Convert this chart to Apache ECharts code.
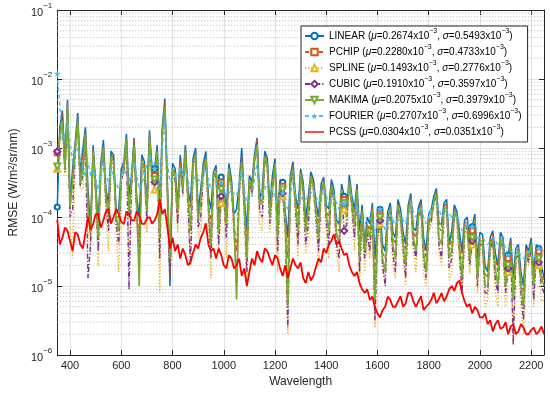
<!DOCTYPE html>
<html><head><meta charset="utf-8">
<script src="https://cdn.jsdelivr.net/npm/echarts@6/dist/echarts.min.js"></script>
<style>html,body{margin:0;padding:0;background:#fff}#c{width:550px;height:393px}</style>
</head><body><div id="c"></div>
<script>
const wavelength = [350,360,370,380,390,400,410,420,430,440,450,460,470,480,490,500,510,520,530,540,
550,560,570,580,590,600,610,620,630,640,650,660,670,680,690,700,710,720,730,740,
750,760,770,780,790,800,810,820,830,840,850,860,870,880,890,900,910,920,930,940,
950,960,970,980,990,1000,1010,1020,1030,1040,1050,1060,1070,1080,1090,1100,1110,1120,1130,1140,
1150,1160,1170,1180,1190,1200,1210,1220,1230,1240,1250,1260,1270,1280,1290,1300,1310,1320,1330,1340,
1350,1360,1370,1380,1390,1400,1410,1420,1430,1440,1450,1460,1470,1480,1490,1500,1510,1520,1530,1540,
1550,1560,1570,1580,1590,1600,1610,1620,1630,1640,1650,1660,1670,1680,1690,1700,1710,1720,1730,1740,
1750,1760,1770,1780,1790,1800,1810,1820,1830,1840,1850,1860,1870,1880,1890,1900,1910,1920,1930,1940,
1950,1960,1970,1980,1990,2000,2010,2020,2030,2040,2050,2060,2070,2080,2090,2100,2110,2120,2130,2140,
2150,2160,2170,2180,2190,2200,2210,2220,2230,2240,2250];

const linear = [1.4e-4,2e-3,3.5e-3,6e-4,5e-3,1.6e-4,5e-4,1.2e-3,3.2e-3,4e-4,
1e-3,2e-3,2.5e-4,7e-5,1.1e-3,3e-4,7.9e-5,6e-4,1.3e-3,2.5e-4,
1.6e-4,9e-4,7.9e-4,1.2e-4,1.3e-4,5e-4,6.3e-4,1.6e-3,2e-4,4e-4,
1.4e-3,2e-4,1e-4,8e-4,6.3e-4,1.5e-4,1.8e-3,5e-4,5e-4,1.1e-3,
1.3e-4,2e-3,5.2e-3,3e-4,1e-5,6e-4,5e-4,1.5e-4,7.9e-4,3e-4,
1.1e-3,2.5e-4,1.6e-4,7e-4,1e-3,1.2e-4,2.5e-4,6e-4,8.9e-4,2e-4,
1.3e-4,4.5e-4,5.6e-4,9e-5,3.8e-4,2.5e-4,1.3e-4,6e-4,3.5e-4,1.1e-4,
1.3e-4,3e-4,1e-3,2e-4,6.3e-5,4e-4,3.2e-4,8e-4,1.4e-3,1.8e-4,
2.5e-4,9e-4,7.1e-4,1.4e-4,4e-4,7e-4,1e-4,3.5e-4,3.2e-4,1.2e-4,
5e-5,4e-4,6.3e-4,2e-4,1.3e-4,5e-4,3.2e-4,9e-5,2e-4,4.5e-4,
3.5e-4,1.6e-4,1e-4,3e-4,3.8e-4,1.5e-4,1.3e-4,3.5e-4,2.5e-4,9e-5,
7.9e-5,3e-4,2e-4,1.2e-4,4.1e-4,2e-4,1.3e-4,3e-4,6.3e-5,1.5e-4,
4e-5,1e-4,7.9e-5,1.6e-4,2.5e-5,9e-5,1.3e-4,4e-5,3.2e-5,1.2e-4,
1.6e-4,6e-5,5e-5,1.8e-4,1.3e-4,6e-5,4e-5,1.5e-4,2.2e-4,7e-5,
6.3e-5,1.4e-4,1.8e-4,5e-5,3.2e-5,1.1e-4,1.3e-4,2e-4,2.6e-4,8e-5,
7.9e-5,1.6e-4,1.8e-4,4e-5,6.3e-5,1.5e-4,1.2e-4,6e-5,3.2e-5,9e-5,
1e-4,4e-5,7.2e-5,1.1e-4,2.5e-5,6e-5,5.6e-5,2e-5,1.6e-5,5e-5,
6.3e-5,3e-5,2e-5,6e-5,5e-5,1.5e-5,2.8e-5,5e-5,1.3e-5,3.5e-5,
4e-5,1.6e-5,1e-5,4e-5,3.2e-5,5e-5,1.6e-5,4e-5,3.5e-5,2e-5,
1.3e-5];

const pchip = [8.5e-4,1.6e-3,3.2e-3,5e-4,4.5e-3,1.3e-4,4e-4,1e-3,2.8e-3,3.2e-4,
7.9e-4,1.7e-3,2e-4,5e-5,1e-3,2.5e-4,6.3e-5,5e-4,1.1e-3,2e-4,
1.3e-4,8e-4,7.1e-4,1e-4,1e-4,4e-4,5.6e-4,1.4e-3,1.6e-4,3.2e-4,
1.3e-3,1.5e-4,5e-5,7e-4,5.6e-4,1.2e-4,1.6e-3,4e-4,4e-4,1e-3,
1e-4,1.8e-3,4.7e-3,2.5e-4,1.6e-5,5e-4,4.5e-4,1.2e-4,6.3e-4,2.5e-4,
1e-3,2e-4,1.3e-4,6e-4,8.9e-4,1e-4,2e-4,5e-4,7.9e-4,1.6e-4,
7.9e-5,4e-4,5e-4,7e-5,3.2e-4,2.2e-4,1e-4,5e-4,3.2e-4,9e-5,
3.2e-5,2.6e-4,7.9e-4,1.6e-4,4e-5,3.5e-4,2.8e-4,7e-4,1.3e-3,1.5e-4,
2e-4,8e-4,6.3e-4,1.1e-4,3.2e-4,6e-4,7.9e-5,3e-4,2.8e-4,1e-4,
2.5e-5,3.5e-4,5.6e-4,1.6e-4,1e-4,4.5e-4,2.8e-4,7e-5,1.6e-4,4e-4,
3.2e-4,1.3e-4,7.9e-5,2.6e-4,3.5e-4,1.2e-4,1e-4,3e-4,2.2e-4,7e-5,
6.3e-5,2.6e-4,1.8e-4,1e-4,3.5e-4,1.7e-4,1e-4,2.6e-4,4e-5,1.3e-4,
3.5e-5,8e-5,6.3e-5,1.4e-4,1.3e-5,7e-5,1.1e-4,3e-5,2.5e-5,1e-4,
1.4e-4,5e-5,4e-5,1.6e-4,1.1e-4,5e-5,3.2e-5,1.3e-4,2e-4,6e-5,
5e-5,1.2e-4,1.6e-4,4e-5,2.5e-5,9e-5,1.1e-4,1.8e-4,2.4e-4,7e-5,
6.3e-5,1.4e-4,1.6e-4,3e-5,5e-5,1.3e-4,1.07e-4,5e-5,2.5e-5,8e-5,
8.9e-5,3e-5,6.3e-5,1e-4,2e-5,5e-5,5e-5,1.5e-5,1.3e-5,4.5e-5,
5.6e-5,2.5e-5,1.6e-5,5e-5,4.5e-5,1.2e-5,2.5e-5,4.5e-5,1e-5,3e-5,
3.5e-5,1.3e-5,7.9e-6,3.5e-5,2.8e-5,4.5e-5,1.3e-5,3.5e-5,3.2e-5,1.6e-5,
1.1e-5];

const spline = [5e-4,1.2e-3,2e-3,4e-4,3.2e-3,8e-5,2.5e-5,8e-4,2e-3,2.5e-4,
2.5e-4,1.4e-3,6.3e-5,3e-5,7.9e-4,2e-4,2e-5,4e-4,7.9e-4,1.3e-4,
3.2e-5,6e-4,5e-4,6e-5,1.6e-5,3e-4,4e-4,1.2e-3,2.5e-5,2.5e-4,
1e-3,9e-5,1.6e-5,5e-4,4e-4,6e-5,1.3e-3,3e-4,2.5e-4,8e-4,
7.9e-6,1.4e-3,3.2e-3,1.5e-4,1.3e-5,4e-4,3.2e-4,6e-5,5e-4,2e-4,
7.9e-4,1.2e-4,2e-5,5e-4,6.3e-4,5e-5,6.3e-5,4e-4,6.3e-4,1e-4,
1.3e-5,3.2e-4,4e-4,3e-5,1.6e-4,1.8e-4,2.5e-5,4e-4,2.5e-4,5e-5,
1e-5,2e-4,5e-4,1e-4,1e-5,3e-4,2e-4,6e-4,1e-3,8e-5,
6.3e-5,6e-4,5e-4,6e-5,2e-4,5e-4,1.6e-5,2.5e-4,2e-4,5e-5,
2e-6,2.5e-4,4e-4,1e-4,2.5e-5,3.5e-4,2e-4,3e-5,5e-5,3e-4,
2.5e-4,8e-5,2e-5,2e-4,2.8e-4,6e-5,2.5e-5,2.2e-4,1.6e-4,3e-5,
1.6e-5,2e-4,1.3e-4,6e-5,2.8e-4,1.2e-4,3.2e-5,2e-4,1e-5,8e-5,
1.6e-5,5e-5,2.5e-5,1e-4,2.5e-6,4e-5,7.9e-5,1.5e-5,1.3e-5,7e-5,
1e-4,2e-5,1.3e-5,1.2e-4,7.9e-5,2.5e-5,1e-5,1e-4,1.6e-4,3e-5,
1.6e-5,9e-5,1.3e-4,1.5e-5,1e-5,6e-5,7.9e-5,1.4e-4,2e-4,3e-5,
2e-5,1.1e-4,1.3e-4,1.2e-5,1.6e-5,1e-4,8.9e-5,2e-5,7.9e-6,5e-5,
6.3e-5,1.5e-5,4e-5,7e-5,7.9e-6,3e-5,4e-5,5e-6,6.3e-6,3e-5,
4e-5,8e-6,5e-6,4e-5,3.2e-5,5e-6,1.6e-5,3.5e-5,1.6e-6,2e-5,
2.5e-5,5e-6,2e-6,2.5e-5,2e-5,3e-5,5e-6,2.5e-5,2e-5,6e-6,
6.3e-6];

const cubic = [8.9e-4,1.4e-3,2.8e-3,4.5e-4,3.5e-3,1e-4,1.3e-4,9e-4,2.2e-3,2.8e-4,
4e-4,1.5e-3,1.3e-5,4e-5,8.9e-4,2.2e-4,3.2e-5,4.5e-4,8.9e-4,1.6e-4,
6.3e-5,7e-4,5.6e-4,8e-5,4e-5,3.5e-4,4.5e-4,1.3e-3,8.9e-6,3e-4,
1.1e-3,1.2e-4,2.5e-5,6e-4,4.5e-4,9e-5,1.4e-3,3.5e-4,3.2e-4,9e-4,
2.5e-5,1.6e-3,3.5e-3,2e-4,1.3e-5,4.5e-4,3.5e-4,8e-5,5e-4,2.2e-4,
8.9e-4,1.6e-4,2e-5,5.5e-4,7.1e-4,7e-5,1e-4,4.5e-4,6.3e-4,1.3e-4,
2.5e-5,3.5e-4,4e-4,4e-5,2e-4,2e-4,5e-5,4.5e-4,2.5e-4,7e-5,
1e-5,2.2e-4,5.6e-4,1.3e-4,1.6e-5,3.2e-4,2.2e-4,6.5e-4,1e-3,1.2e-4,
1e-4,7e-4,5e-4,8e-5,2.5e-4,5.5e-4,3.2e-5,2.8e-4,2.2e-4,7e-5,
2.5e-6,3e-4,4.5e-4,1.3e-4,4e-5,4e-4,2.2e-4,4e-5,7.9e-5,3.5e-4,
2.5e-4,1e-4,3.2e-5,2.2e-4,3.2e-4,9e-5,4e-5,2.6e-4,1.8e-4,4e-5,
2.5e-5,2.2e-4,6.3e-5,8e-5,3.2e-4,1.4e-4,5e-5,2.2e-4,1.6e-5,1e-4,
2.5e-5,6e-5,3.2e-5,1.2e-4,3.2e-6,5e-5,8.9e-5,2e-5,1e-5,8e-5,
1.1e-4,3e-5,1.6e-5,1.4e-4,8.9e-5,3.5e-5,1.3e-5,1.1e-4,1.6e-4,4e-5,
2.5e-5,1e-4,1.3e-4,2.5e-5,1.3e-5,7e-5,8.9e-5,1.6e-4,2e-4,4e-5,
2.5e-5,1.2e-4,1.3e-4,1.8e-5,2.5e-5,1.1e-4,1e-4,3e-5,7.9e-6,6e-5,
7.1e-5,2e-5,4.5e-5,8e-5,1e-5,4e-5,4e-5,8e-6,7.9e-6,3.5e-5,
4.5e-5,1.2e-5,7.9e-6,4.5e-5,3.5e-5,8e-6,1.8e-5,4e-5,1.4e-6,2.5e-5,
2.8e-5,8e-6,3.2e-6,3e-5,2.2e-5,3.5e-5,6.3e-6,3e-5,2.2e-5,1e-5,
7.9e-6];

const makima = [5.4e-4,1.5e-3,2.5e-3,5e-4,4e-3,1.4e-4,3.2e-4,1e-3,2.5e-3,3e-4,
5e-4,1.6e-3,1.3e-4,6e-5,8.9e-4,2.5e-4,5e-5,5e-4,1e-3,2e-4,
1e-4,7.5e-4,6.3e-4,1e-4,6.3e-5,4e-4,5e-4,1.4e-3,1e-4,3.5e-4,
1.1e-3,1.6e-4,1e-5,6.5e-4,5e-4,1.2e-4,1.4e-3,4e-4,3.5e-4,9e-4,
5e-5,1.7e-3,4e-3,2.5e-4,2.5e-5,5e-4,4e-4,1.2e-4,5.6e-4,2.5e-4,
8.9e-4,2e-4,6.3e-5,6e-4,7.9e-4,9e-5,1.6e-4,5e-4,7.1e-4,1.5e-4,
4e-5,3.8e-4,4.5e-4,6e-5,2.5e-4,2.2e-4,7.9e-5,5e-4,2.8e-4,9e-5,
6.3e-6,2.5e-4,6.3e-4,1.6e-4,2.5e-5,3.5e-4,2.5e-4,7e-4,1.1e-3,1.5e-4,
1.6e-4,7.5e-4,5.6e-4,1e-4,2.8e-4,6e-4,5e-5,3e-4,2.5e-4,1e-4,
5e-6,3.5e-4,5e-4,1.6e-4,6.3e-5,4.2e-4,2.5e-4,6e-5,1.3e-4,3.8e-4,
2.8e-4,1.2e-4,5e-5,2.5e-4,3.2e-4,1.1e-4,6.3e-5,2.8e-4,2e-4,6e-5,
4e-5,2.5e-4,1.6e-4,1e-4,3.2e-4,1.6e-4,7.9e-5,2.5e-4,2.5e-5,1.2e-4,
3.2e-5,7e-5,5e-5,1.3e-4,6.3e-6,6e-5,1e-4,2.5e-5,1.6e-5,9e-5,
1.3e-4,4e-5,2.5e-5,1.5e-4,1e-4,4e-5,2e-5,1.2e-4,1.8e-4,5e-5,
3.2e-5,1.1e-4,1.4e-4,3e-5,1.6e-5,8e-5,1e-4,1.7e-4,2.2e-4,5e-5,
4e-5,1.3e-4,1.4e-4,2.5e-5,3.2e-5,1.2e-4,1e-4,4e-5,1.3e-5,7e-5,
7.9e-5,2.5e-5,5e-5,9e-5,1.3e-5,4.5e-5,4.5e-5,1e-5,1e-5,4e-5,
5e-5,1.8e-5,1e-5,5e-5,4e-5,1e-5,2e-5,4e-5,6.3e-6,2.8e-5,
3.2e-5,1e-5,5e-6,3.2e-5,2.5e-5,4e-5,1e-5,3.2e-5,2.5e-5,1.3e-5,
1e-5];

const fourier = [1.2e-2,4e-3,1.3e-3,1.6e-3,2.5e-3,1.2e-3,6.3e-4,8e-4,1e-3,7e-4,
5e-4,4e-4,6.3e-4,4e-4,5e-4,3.5e-4,2.5e-4,4e-4,6.3e-4,4e-4,
3.2e-4,5e-4,4e-4,3e-4,2.5e-4,3.5e-4,5e-4,4e-4,3.2e-4,4.5e-4,
6.3e-4,4e-4,2.5e-4,3e-4,4e-4,6e-4,7.9e-4,6e-4,5e-4,3.5e-4,
2.5e-4,1e-3,2.5e-3,6e-4,3.2e-4,3.5e-4,4e-4,4.5e-4,5e-4,4e-4,
5e-4,3.5e-4,2.5e-4,3e-4,4e-4,3.5e-4,3.2e-4,4e-4,5e-4,3.5e-4,
2.5e-4,2.8e-4,3.2e-4,2.5e-4,3.2e-4,2.5e-4,2e-4,2.2e-4,2.5e-4,2.2e-4,
2e-4,3e-4,5e-4,2.5e-4,1.6e-4,1.8e-4,2e-4,3.5e-4,6.3e-4,3e-4,
2e-4,2.5e-4,3.2e-4,2.8e-4,2.5e-4,2e-4,1.6e-4,1.8e-4,2.2e-4,1.6e-4,
1.3e-4,2.2e-4,3.2e-4,2.2e-4,1.6e-4,1.8e-4,2e-4,1.8e-4,2e-4,2.2e-4,
2.5e-4,2e-4,1.6e-4,2e-4,2.5e-4,2e-4,1.6e-4,1.8e-4,2e-4,1.6e-4,
1.3e-4,1.4e-4,1.6e-4,2e-4,2.5e-4,2e-4,1.6e-4,1.3e-4,1e-4,9e-5,
7.9e-5,9e-5,1e-4,8e-5,6.3e-5,9e-5,1.3e-4,9e-5,6.3e-5,8e-5,
1.1e-4,9e-5,7.9e-5,9e-5,1.1e-4,9e-5,7.9e-5,1.1e-4,1.6e-4,1.2e-4,
1e-4,1.2e-4,1.4e-4,1e-4,7.9e-5,1e-4,1.3e-4,1.5e-4,1.8e-4,1.3e-4,
1e-4,1.1e-4,1.3e-4,1.1e-4,1e-4,1e-4,1e-4,8e-5,6.3e-5,7e-5,
7.9e-5,7.5e-5,7.2e-5,6e-5,5e-5,5e-5,5e-5,4.5e-5,4e-5,4.5e-5,
5e-5,4.5e-5,4e-5,4e-5,4.5e-5,3.5e-5,2.8e-5,2.6e-5,2.5e-5,2.8e-5,
3.2e-5,2.8e-5,2.5e-5,2.8e-5,3.2e-5,2.8e-5,2.5e-5,3e-5,3.5e-5,3.4e-5,
3.2e-5];

const pcss = [9.1e-5,4e-5,5e-5,7e-5,6.3e-5,4.5e-5,3.2e-5,6e-5,5.6e-5,4e-5,
3.5e-5,6e-5,1e-4,6.5e-5,7.9e-5,1.1e-4,1.1e-4,7e-5,8.9e-5,1.2e-4,
1.3e-4,8e-5,1e-4,1.3e-4,1.1e-4,8.5e-5,7.9e-5,1.2e-4,1.1e-4,9e-5,
8.9e-5,1.2e-4,1.05e-4,8e-5,7.9e-5,9.5e-5,1e-4,8e-5,8.9e-5,1.1e-4,
1.8e-4,1.1e-4,1.3e-4,7e-5,3.5e-5,5e-5,3.2e-5,4e-5,2.5e-5,3.5e-5,
2.8e-5,2e-5,2.2e-5,3e-5,4e-5,3.5e-5,5e-5,6e-5,8.1e-5,4e-5,
3.2e-5,3.5e-5,2.5e-5,3.5e-5,2.8e-5,2e-5,1.8e-5,2.8e-5,2.5e-5,1.8e-5,
2e-5,2.5e-5,1.4e-5,1.8e-5,1e-5,1.6e-5,2.5e-5,2e-5,3.2e-5,2.5e-5,
2.2e-5,3.5e-5,3.2e-5,2.5e-5,2e-5,2.8e-5,2.5e-5,1.8e-5,1.4e-5,2e-5,
1.3e-5,1.8e-5,2.5e-5,2e-5,1.8e-5,2.2e-5,1.3e-5,1.1e-5,1.6e-5,1.2e-5,
1.4e-5,1.9e-5,2.5e-5,2.2e-5,3.5e-5,3e-5,4e-5,4.5e-5,5.6e-5,4e-5,
4.5e-5,3.5e-5,2.8e-5,3e-5,2e-5,1.6e-5,1.4e-5,1.6e-5,1.1e-5,9e-6,
7.9e-6,9e-6,6.3e-6,7e-6,5e-6,4e-6,3.5e-6,4.5e-6,5e-6,7e-6,
6.3e-6,5e-6,5e-6,6e-6,7.1e-6,5e-6,5.6e-6,8e-6,7.9e-6,6e-6,
5e-6,6e-6,7.1e-6,4.5e-6,5e-6,5.5e-6,6.3e-6,8e-6,5.6e-6,6.5e-6,
7.9e-6,6e-6,7.1e-6,9e-6,1e-5,8.5e-6,1.1e-5,1.2e-5,7.9e-6,6e-6,
5e-6,5.5e-6,4e-6,5e-6,4.5e-6,3.5e-6,3.5e-6,4e-6,2.8e-6,3.2e-6,
2.2e-6,2.8e-6,3.2e-6,2.4e-6,2.5e-6,3e-6,2e-6,2.6e-6,2.8e-6,2e-6,
2.2e-6,2.8e-6,2.5e-6,2e-6,2e-6,2.3e-6,2.5e-6,2e-6,2.2e-6,2.6e-6,
2e-6];

const seriesNames = ['LINEAR','PCHIP','SPLINE','CUBIC','MAKIMA','FOURIER','PCSS'];
const muValues = ['0.2674','0.2280','0.1493','0.1910','0.2075','0.2707','0.0304'];
const sigmaValues = ['0.5493','0.4733','0.2776','0.3597','0.3979','0.6996','0.0351'];
const markerIndex = [0,38,64,88,112,126,162,176,188];
const minorGridValues = [2e-6,3e-6,4e-6,5e-6,6e-6,7e-6,8e-6,9e-6,2e-5,3e-5,4e-5,5e-5,6e-5,7e-5,8e-5,9e-5,2e-4,3e-4,4e-4,5e-4,6e-4,7e-4,8e-4,9e-4,2e-3,3e-3,4e-3,5e-3,6e-3,7e-3,8e-3,9e-3,2e-2,3e-2,4e-2,5e-2,6e-2,7e-2,8e-2,9e-2];
const xRange = [350, 2250];

const FONT = '"Liberation Sans", Arial, Helvetica, sans-serif';
const AX = '#262626';
const STAR = 'path://M50,0 L61,35 L98,35 L68,57 L79,91 L50,70 L21,91 L32,57 L2,35 L39,35 Z';

function build(name, vals, color, lineType, symbol, size, rotate, width) {
  const data = wavelength.map((x, i) => markerIndex.includes(i) ? [x, vals[i]] : {value: [x, vals[i]], symbol: 'none'});
  return {
    type: 'line', name: name, data: data, symbol: symbol, symbolSize: size, symbolRotate: rotate || 0,
    showSymbol: true, z: 2,
    lineStyle: {color: color, width: width, type: lineType},
    itemStyle: {color: color, borderWidth: 1},
    emphasis: {disabled: true}, silent: true
  };
}

const series = minorGridValues.map(v => ({
  type: 'line', name: '_m' + v, data: [[xRange[0], v], [xRange[1], v]], symbol: 'none', z: 1, silent: true,
  lineStyle: {type: [1, 2], color: '#b3b3b3', width: 1}, emphasis: {disabled: true}
})).concat([
  build('LINEAR', linear, '#0072BD', 'solid', 'emptyCircle', 5, 0, 1.5),
  build('PCHIP', pchip, '#D95319', [4, 3], 'emptyRect', 5, 0, 1.4),
  build('SPLINE', spline, '#EDB120', [1.2, 2], 'emptyTriangle', 6, 0, 1.5),
  build('CUBIC', cubic, '#7E2F8E', [5, 2, 1.2, 2], 'emptyDiamond', 6, 0, 1.4),
  build('MAKIMA', makima, '#77AC30', 'solid', 'emptyTriangle', 6, 180, 1.6),
  build('FOURIER', fourier, '#4DBEEE', [4, 3], STAR, 7, 0, 1.4),
  {type: 'line', name: 'PCSS', data: wavelength.map((x, i) => [x, pcss[i]]), showSymbol: false, symbol: 'none', z: 3,
   lineStyle: {color: '#FF0000', width: 1.8}, itemStyle: {color: '#FF0000'}, emphasis: {disabled: true}, silent: true}
]);

function legendText(name) {
  const i = seriesNames.indexOf(name);
  return '{t|' + name + ' (}{i|\u03bc}{t|=' + muValues[i] + 'x10}{s|\u22123}{t|, }{i|\u03c3}{t|=' + sigmaValues[i] + 'x10}{s|\u22123}{t|)}';
}

const option = {
  animation: false,
  backgroundColor: '#fff',
  textStyle: {fontFamily: FONT},
  grid: {left: 49, right: 6, top: 10, bottom: 38},
  legend: {
    orient: 'vertical', left: 301, top: 26,
    data: seriesNames.map(n => n === 'PCSS' ? {name: n, icon: 'path://M0,0H40V3H0Z'} : n),
    itemWidth: 19, itemHeight: 8, itemGap: 0,
    padding: [2, 6, 2, 3],
    borderColor: AX, borderWidth: 1, backgroundColor: '#fff',
    selectedMode: false,
    formatter: legendText,
    textStyle: {fontFamily: FONT, fontSize: 10, color: '#000', lineHeight: 16,
      rich: {
        t: {fontFamily: FONT, fontSize: 10, color: '#000', lineHeight: 16},
        i: {fontFamily: FONT, fontSize: 10, color: '#000', fontStyle: 'italic', lineHeight: 16},
        s: {fontFamily: FONT, fontSize: 7, color: '#000', lineHeight: 8, verticalAlign: 'top'}
      }}
  },
  xAxis: [{
    type: 'value', min: xRange[0], max: xRange[1], splitNumber: 10,
    axisLine: {show: true, onZero: false, lineStyle: {color: AX, width: 1}},
    axisTick: {show: true, inside: true, length: 5, lineStyle: {color: AX}},
    axisLabel: {showMinLabel: false, showMaxLabel: false, color: AX, fontSize: 11, margin: 5, fontFamily: FONT,
      formatter: v => String(v)},
    splitLine: {show: true, lineStyle: {color: '#e2e2e2', width: 1}},
    name: 'Wavelength', nameLocation: 'middle', nameGap: 19,
    nameTextStyle: {fontSize: 12, color: AX, fontFamily: FONT}
  }, {
    type: 'value', position: 'top', min: xRange[0], max: xRange[1], splitNumber: 10,
    axisLine: {show: true, onZero: false, lineStyle: {color: AX, width: 1}},
    axisTick: {show: true, inside: true, length: 5, lineStyle: {color: AX}},
    axisLabel: {show: false}, splitLine: {show: false}
  }],
  yAxis: [{
    type: 'log', logBase: 10, min: 1e-6, max: 1e-1, splitNumber: 5,
    axisLine: {show: true, onZero: false, lineStyle: {color: AX, width: 1}},
    axisTick: {show: true, inside: true, length: 5, lineStyle: {color: AX}},
    axisLabel: {color: AX, margin: 5, fontFamily: FONT, lineHeight: 20,
      formatter: v => '{b|10}{s|\u2212' + Math.abs(Math.round(Math.log10(v))) + '}',
      rich: {
        b: {fontSize: 11, color: AX, fontFamily: FONT, lineHeight: 14, verticalAlign: 'bottom'},
        s: {fontSize: 8, color: AX, fontFamily: FONT, lineHeight: 16, verticalAlign: 'top'}
      }},
    splitLine: {show: true, lineStyle: {color: '#e2e2e2', width: 1}},
    name: 'RMSE (W/m\u00b2/sr/nm)', nameLocation: 'middle', nameGap: 30,
    nameTextStyle: {fontSize: 12, color: AX, fontFamily: FONT}
  }, {
    type: 'log', logBase: 10, min: 1e-6, max: 1e-1, splitNumber: 5, position: 'right',
    axisLine: {show: true, onZero: false, lineStyle: {color: AX, width: 1}},
    axisTick: {show: true, inside: true, length: 5, lineStyle: {color: AX}},
    axisLabel: {show: false}, splitLine: {show: false}
  }],
  series: series
};

const chart = echarts.init(document.getElementById('c'), null, {renderer: 'canvas'});
chart.setOption(option);
</script></body></html>
